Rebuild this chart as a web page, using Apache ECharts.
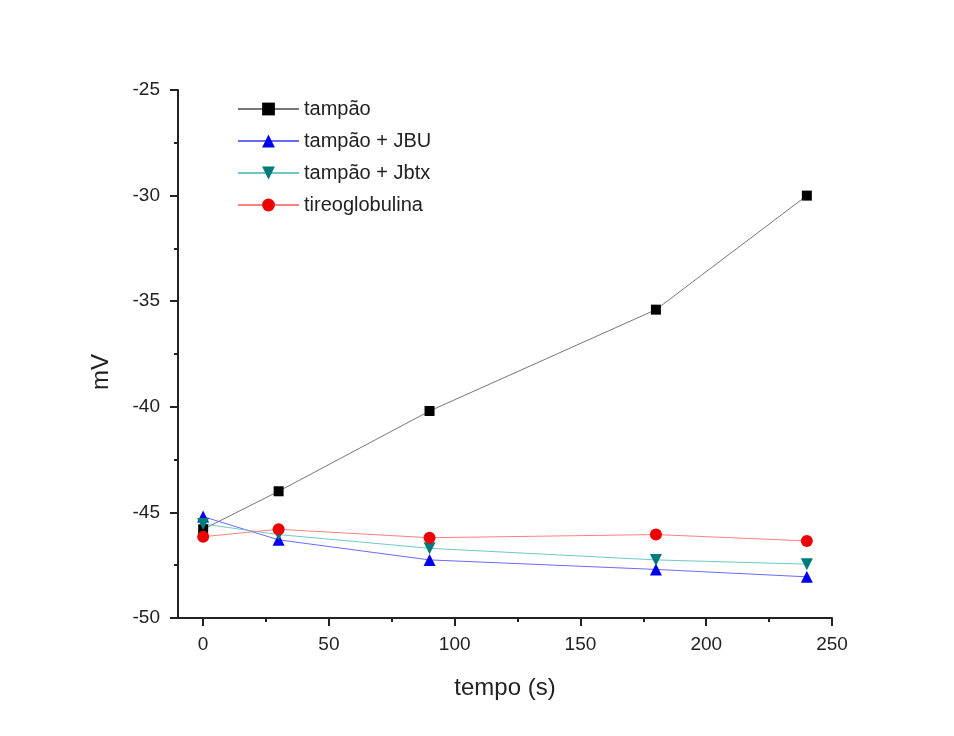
<!DOCTYPE html>
<html>
<head>
<meta charset="utf-8">
<script src="https://cdn.jsdelivr.net/npm/echarts@6/dist/echarts.min.js"></script>
<style>
  html, body { margin: 0; padding: 0; background: #fff; }
  #chart { width: 954px; height: 736px; }
</style>
</head>
<body>
<div id="chart"></div>
<script>
// Sampling times (s)
const tempo = [0, 30, 90, 180, 240];

// Potential readings (mV) for each condition
const tampao = [-45.8, -44.0, -40.2, -35.4, -30.0];
const tampaoJBU = [-45.2, -46.3, -47.25, -47.7, -48.05];
const tampaoJbtx = [-45.55, -46.05, -46.7, -47.25, -47.45];
const tireoglobulina = [-46.15, -45.8, -46.2, -46.05, -46.35];

// Axis ticks
const xMajorTicks = [0, 50, 100, 150, 200, 250];
const xMinorTicks = [25, 75, 125, 175, 225];

const font = 'Liberation Sans, Arial, sans-serif';

function pairs(xs, ys) {
  return xs.map((x, i) => [x, ys[i]]);
}

const chart = echarts.init(document.getElementById('chart'), null, { renderer: 'canvas' });

function lineSeries(name, values, color, lineColor, symbol, size) {
  return {
    name: name,
    type: 'line',
    xAxisIndex: 0,
    data: pairs(tempo, values),
    symbol: symbol,
    symbolSize: size,
    showAllSymbol: true,
    itemStyle: { color: color, borderWidth: 0 },
    lineStyle: { color: lineColor, width: 1 },
    emphasis: { disabled: true },
    animation: false
  };
}

const option = {
  backgroundColor: '#ffffff',
  animation: false,
  grid: { left: 178, right: 122, top: 90, bottom: 118, containLabel: false },
  legend: {
    orient: 'vertical',
    left: 232,
    top: 94,
    itemWidth: 61,
    itemHeight: 16,
    itemGap: 12,
    textStyle: { fontFamily: font, fontSize: 20, color: '#222' },
    data: ['tampão', 'tampão + JBU', 'tampão + Jbtx', 'tireoglobulina']
  },
  xAxis: [
    {
      type: 'value',
      min: -10,
      max: 250,
      name: 'tempo (s)',
      nameLocation: 'middle',
      nameGap: 58,
      nameTextStyle: { fontFamily: font, fontSize: 24, color: '#222' },
      axisLine: { show: true, onZero: false, lineStyle: { color: '#222', width: 2 } },
      axisTick: { show: true, length: 8, lineStyle: { color: '#222', width: 2 }, customValues: xMajorTicks },
      axisLabel: { fontFamily: font, fontSize: 19, color: '#222', margin: 17, customValues: xMajorTicks },
      splitLine: { show: false }
    },
    {
      type: 'value',
      min: -10,
      max: 250,
      position: 'bottom',
      axisLine: { show: false, onZero: false },
      axisTick: { show: true, length: 4, lineStyle: { color: '#222', width: 2 }, customValues: xMinorTicks },
      axisLabel: { show: false },
      splitLine: { show: false }
    }
  ],
  yAxis: {
    type: 'value',
    min: -50,
    max: -25,
    interval: 5,
    axisLine: { show: true, onZero: false, lineStyle: { color: '#222', width: 2 } },
    axisTick: { show: true, length: 8, lineStyle: { color: '#222', width: 2 } },
    minorTick: { show: true, splitNumber: 2, length: 4, lineStyle: { color: '#222', width: 2 } },
    axisLabel: { fontFamily: font, fontSize: 19, color: '#222', margin: 18 },
    splitLine: { show: false }
  },
  graphic: [
    {
      type: 'text',
      x: 101,
      y: 372,
      rotation: Math.PI / 2,
      style: {
        text: 'mV',
        font: '24px ' + font,
        fill: '#222',
        align: 'center',
        verticalAlign: 'middle'
      }
    }
  ],
  series: [
    lineSeries('tampão', tampao, '#000000', '#777777', 'rect', 10),
    lineSeries('tampão + JBU', tampaoJBU, '#0000ee', '#6a6aff', 'triangle', 12),
    lineSeries('tampão + Jbtx', tampaoJbtx, '#007b7b', '#6fc8c8', 'path://M0,0 L10,0 L5,9 Z', 12),
    lineSeries('tireoglobulina', tireoglobulina, '#ee0000', '#ff8080', 'circle', 12)
  ]
};

chart.setOption(option);
</script>
</body>
</html>
